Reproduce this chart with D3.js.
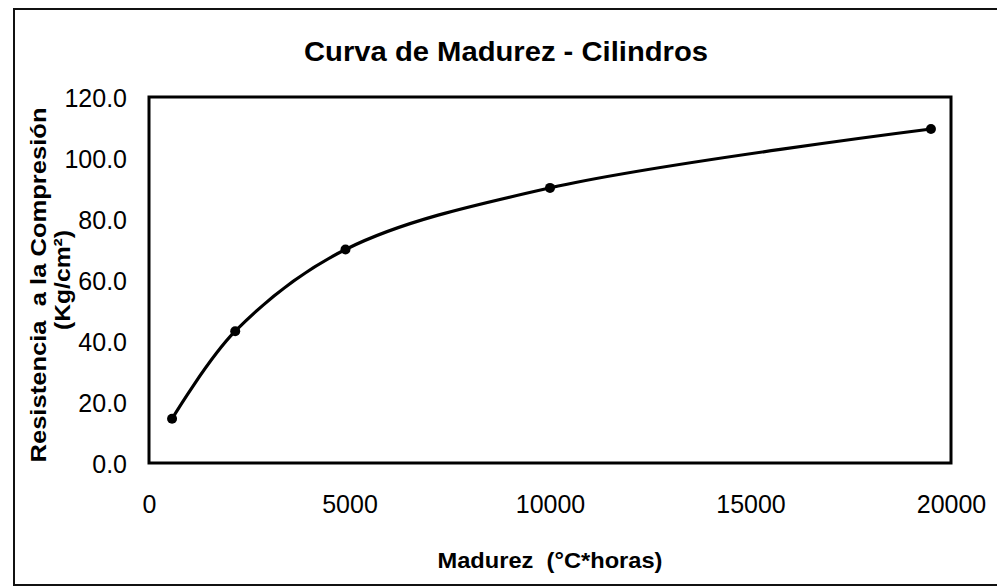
<!DOCTYPE html>
<html>
<head>
<meta charset="utf-8">
<script src="https://cdn.jsdelivr.net/npm/d3@7/dist/d3.min.js"></script>
<style>
  html, body { margin: 0; padding: 0; background: #fff; }
  svg { display: block; }
  text { font-family: "Liberation Sans", Arial, sans-serif; fill: #000; }
</style>
</head>
<body>
<svg id="chart" width="997" height="587"></svg>
<script>
// ---- data ----
const madurez = [575, 2150, 4900, 10000, 19500];          // °C*horas
const resistencia = [14.5, 43.2, 70.0, 90.2, 109.5];      // Kg/cm2
const xTicks = [0, 5000, 10000, 15000, 20000];
const yTicks = [0, 20, 40, 60, 80, 100, 120];
const titleText = "Curva de Madurez - Cilindros";
const xTitle = "Madurez  (°C*horas)";
const yTitle1 = "Resistencia  a la Compresión";
const yTitle2 = "(Kg/cm²)";

const svg = d3.select("#chart");
const W = 997, H = 587;
const plot = { left: 149, right: 951, top: 97, bottom: 463 };

const x = d3.scaleLinear().domain([0, 20000]).range([plot.left, plot.right]);
const y = d3.scaleLinear().domain([0, 120]).range([plot.bottom, plot.top]);

// outer frame (extends off right edge)
svg.append("path")
  .attr("d", `M${W + 5},9 L14,9 L14,585 L${W + 5},585`)
  .attr("fill", "none").attr("stroke", "#111").attr("stroke-width", 2);

// title
svg.append("text")
  .attr("x", 506).attr("y", 61)
  .attr("text-anchor", "middle")
  .attr("font-size", 27).attr("font-weight", "bold")
  .attr("textLength", 404).attr("lengthAdjust", "spacingAndGlyphs")
  .text(titleText);

// plot area frame
svg.append("rect")
  .attr("x", plot.left).attr("y", plot.top)
  .attr("width", plot.right - plot.left).attr("height", plot.bottom - plot.top)
  .attr("fill", "none").attr("stroke", "#000").attr("stroke-width", 3);

// y axis labels
const yAxis = d3.axisLeft(y).tickValues(yTicks).tickFormat(d3.format(".1f")).tickSize(0).tickPadding(22);
const gy = svg.append("g").attr("transform", `translate(${plot.left},0)`).call(yAxis);
gy.select(".domain").remove();
gy.selectAll("text")
  .attr("font-family", "Liberation Sans, Arial, sans-serif")
  .attr("font-size", 25).attr("fill", "#000").attr("dy", "0.36em");

// x axis labels
const xAxis = d3.axisBottom(x).tickValues(xTicks).tickFormat(d3.format("d")).tickSize(0).tickPadding(32);
const gx = svg.append("g").attr("transform", `translate(0,${plot.bottom})`).call(xAxis);
gx.select(".domain").remove();
gx.selectAll("text")
  .attr("font-family", "Liberation Sans, Arial, sans-serif")
  .attr("font-size", 25).attr("fill", "#000");

// axis titles
svg.append("text")
  .attr("x", 550).attr("y", 568)
  .attr("text-anchor", "middle")
  .attr("font-size", 22).attr("font-weight", "bold")
  .attr("textLength", 225).attr("lengthAdjust", "spacingAndGlyphs")
  .style("white-space", "pre")
  .text(xTitle);

svg.append("text")
  .attr("transform", "translate(46,285) rotate(-90)")
  .attr("text-anchor", "middle")
  .attr("font-size", 22).attr("font-weight", "bold")
  .attr("textLength", 355).attr("lengthAdjust", "spacingAndGlyphs")
  .style("white-space", "pre")
  .text(yTitle1);

svg.append("text")
  .attr("transform", "translate(70,280) rotate(-90)")
  .attr("text-anchor", "middle")
  .attr("font-size", 22).attr("font-weight", "bold")
  .attr("textLength", 100).attr("lengthAdjust", "spacingAndGlyphs")
  .text(yTitle2);

// series
const pts = madurez.map((m, i) => [m, resistencia[i]]);
const line = d3.line().x(d => x(d[0])).y(d => y(d[1])).curve(d3.curveCatmullRom.alpha(0.5));
svg.append("path")
  .datum(pts)
  .attr("d", line)
  .attr("fill", "none").attr("stroke", "#000").attr("stroke-width", 3.2);

svg.selectAll("circle.pt")
  .data(pts).enter().append("circle")
  .attr("class", "pt")
  .attr("cx", d => x(d[0])).attr("cy", d => y(d[1]))
  .attr("r", 5).attr("fill", "#000");
</script>
</body>
</html>
